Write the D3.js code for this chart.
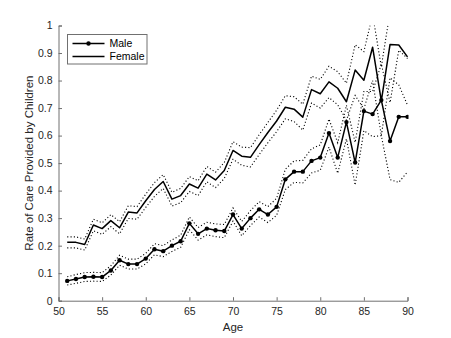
<!DOCTYPE html>
<html>
<head>
<meta charset="utf-8">
<script src="https://cdn.jsdelivr.net/npm/d3@7"></script>
<style>
  body { margin: 0; background: #fff; }
  svg { display: block; font-family: "Liberation Sans", Arial, sans-serif; }
</style>
</head>
<body>
<script>
// Ages 51..90
const ages = d3.range(51, 91);

const male = [0.072,0.079,0.086,0.087,0.086,0.110,0.147,0.133,0.133,0.153,
  0.187,0.180,0.200,0.216,0.281,0.243,0.262,0.256,0.253,0.313,
  0.262,0.300,0.332,0.313,0.341,0.441,0.469,0.469,0.508,0.520,
  0.609,0.520,0.649,0.502,0.689,0.678,0.729,0.580,0.668,0.668];
const maleUpper = [0.087,0.095,0.102,0.103,0.102,0.127,0.165,0.151,0.151,0.172,
  0.207,0.200,0.221,0.238,0.304,0.266,0.285,0.279,0.277,0.337,
  0.288,0.327,0.360,0.342,0.372,0.478,0.508,0.510,0.552,0.566,
  0.660,0.574,0.710,0.575,0.760,0.760,0.860,0.720,0.910,0.880];
const maleLower = [0.057,0.063,0.070,0.071,0.070,0.093,0.129,0.115,0.115,0.134,
  0.167,0.160,0.179,0.194,0.258,0.220,0.239,0.233,0.229,0.289,
  0.236,0.273,0.304,0.284,0.310,0.404,0.430,0.428,0.464,0.474,
  0.558,0.463,0.588,0.420,0.618,0.596,0.600,0.440,0.430,0.468];

const female = [0.212,0.212,0.204,0.275,0.262,0.291,0.265,0.322,0.319,0.363,
  0.404,0.433,0.369,0.382,0.424,0.409,0.460,0.439,0.473,0.546,
  0.525,0.521,0.567,0.611,0.653,0.703,0.696,0.667,0.767,0.752,
  0.795,0.772,0.723,0.838,0.801,0.921,0.726,0.931,0.929,0.886];
const femaleUpper = [0.232,0.232,0.224,0.296,0.283,0.313,0.287,0.345,0.342,0.387,
  0.429,0.458,0.394,0.408,0.451,0.436,0.488,0.467,0.502,0.578,
  0.558,0.556,0.603,0.648,0.692,0.745,0.741,0.714,0.816,0.804,
  0.852,0.832,0.790,0.930,0.905,1.040,0.850,1.050,1.060,1.040];
const femaleLower = [0.192,0.192,0.184,0.254,0.241,0.269,0.243,0.299,0.296,0.339,
  0.379,0.408,0.344,0.356,0.397,0.382,0.432,0.411,0.444,0.514,
  0.492,0.486,0.531,0.574,0.614,0.661,0.651,0.620,0.718,0.700,
  0.738,0.712,0.656,0.746,0.697,0.800,0.600,0.810,0.784,0.711];

const xTicks = [50,55,60,65,70,75,80,85,90];
const yTicks = [0,0.1,0.2,0.3,0.4,0.5,0.6,0.7,0.8,0.9,1];
const legendItems = ["Male", "Female"];

const W = 451, H = 338;
const margin = { top: 25.5, right: 43.5, bottom: 37.3, left: 58.5 };
const width = W - margin.left - margin.right;
const height = H - margin.top - margin.bottom;
const axisColor = "#707070";

const svg = d3.select("body").append("svg")
  .attr("width", W).attr("height", H);

const g = svg.append("g")
  .attr("transform", `translate(${margin.left},${margin.top})`);

const x = d3.scaleLinear().domain([50, 90]).range([0, width]);
const y = d3.scaleLinear().domain([0, 1]).range([height, 0]);

g.append("clipPath").attr("id", "plotclip")
  .append("rect").attr("x", -1).attr("y", 0).attr("width", width + 2).attr("height", height);

// axes (MATLAB style: inward ticks, no box)
const xAxis = g.append("g")
  .attr("transform", `translate(0,${height})`)
  .call(d3.axisBottom(x).tickValues(xTicks).tickSize(-3.5).tickPadding(7).tickFormat(d3.format("d")));
const yAxis = g.append("g")
  .call(d3.axisLeft(y).tickValues(yTicks).tickSize(-3.5).tickPadding(6).tickFormat(d => d === 0 ? "0" : d === 1 ? "1" : d3.format(".1f")(d)));

[xAxis, yAxis].forEach(a => {
  a.select(".domain").attr("stroke", axisColor).attr("stroke-width", 1);
  a.selectAll(".tick line").attr("stroke", axisColor);
  a.selectAll(".tick text").attr("fill", "#262626").style("font-size", "10.5px");
});
xAxis.selectAll(".tick text").attr("dy", "0.71em");

// axis labels
svg.append("text")
  .attr("x", margin.left + width / 2).attr("y", 331)
  .attr("text-anchor", "middle").attr("fill", "#262626")
  .style("font-size", "11.5px").text("Age");
svg.append("text")
  .attr("transform", `translate(33,${margin.top + height / 2}) rotate(-90)`)
  .attr("text-anchor", "middle").attr("fill", "#262626")
  .style("font-size", "11.5px").text("Rate of Care Provided by Children");

// lines
const plot = g.append("g").attr("clip-path", "url(#plotclip)");
const line = d3.line().x((d, i) => x(ages[i])).y(d => y(d));

[maleUpper, maleLower, femaleUpper, femaleLower].forEach(arr => {
  plot.append("path").datum(arr)
    .attr("d", line).attr("fill", "none")
    .attr("stroke", "#000").attr("stroke-width", 1.1)
    .attr("stroke-dasharray", "1.1,2.2");
});

plot.append("path").datum(female)
  .attr("d", line).attr("fill", "none")
  .attr("stroke", "#000").attr("stroke-width", 1.5)
  .attr("stroke-linejoin", "round");

plot.append("path").datum(male)
  .attr("d", line).attr("fill", "none")
  .attr("stroke", "#000").attr("stroke-width", 1.5)
  .attr("stroke-linejoin", "round");

plot.selectAll(".mk").data(male).enter().append("circle")
  .attr("class", "mk")
  .attr("cx", (d, i) => x(ages[i])).attr("cy", d => y(d))
  .attr("r", 2.2).attr("fill", "#000");

// legend
const lg = svg.append("g").attr("transform", "translate(67.5,34.5)");
lg.append("rect").attr("width", 79.5).attr("height", 29.5)
  .attr("fill", "#fff").attr("stroke", "#707070").attr("stroke-width", 1);
legendItems.forEach((name, i) => {
  const ly = 9 + i * 13;
  lg.append("line").attr("x1", 5).attr("x2", 37).attr("y1", ly).attr("y2", ly)
    .attr("stroke", "#000").attr("stroke-width", 1.5);
  if (i === 0) lg.append("circle").attr("cx", 21).attr("cy", ly).attr("r", 2.2).attr("fill", "#000");
  lg.append("text").attr("x", 42).attr("y", ly).attr("dy", "0.35em")
    .attr("fill", "#000").style("font-size", "10.5px").text(name);
});
</script>
</body>
</html>
